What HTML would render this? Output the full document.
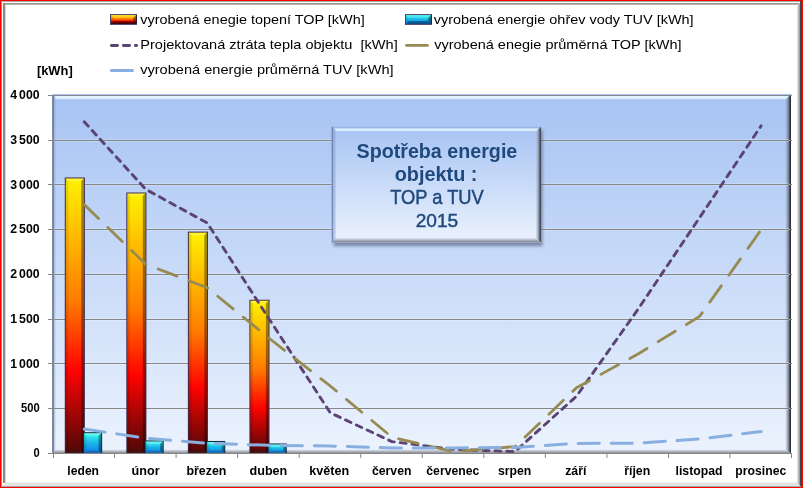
<!DOCTYPE html>
<html lang="cs"><head><meta charset="utf-8"><title>Spotřeba energie objektu : TOP a TUV 2015</title>
<style>html,body{margin:0;padding:0;background:#fff;overflow:hidden}svg{display:block}text{font-family:"Liberation Sans",sans-serif;fill:#000}.b{font-weight:bold}.ws{word-spacing:-1.4px}.tr{stroke:#1f497d;stroke-width:0.45px}</style></head><body>
<svg width="803" height="488" viewBox="0 0 803 488">
<defs>
<linearGradient id="plotg" x1="0" y1="0" x2="0" y2="1"><stop offset="0" stop-color="#a7c3f3"/><stop offset="0.5" stop-color="#c9dbf8"/><stop offset="1" stop-color="#ecf3fe"/></linearGradient>
<linearGradient id="fire" x1="0" y1="0" x2="0" y2="1"><stop offset="0" stop-color="#fff200"/><stop offset="0.45" stop-color="#ff7a00"/><stop offset="0.70" stop-color="#ff0300"/><stop offset="1" stop-color="#4d0808"/></linearGradient>
<linearGradient id="tuv" x1="0" y1="0" x2="0" y2="1"><stop offset="0" stop-color="#3dfff0"/><stop offset="0.5" stop-color="#18b6e8"/><stop offset="1" stop-color="#0f7ff0"/></linearGradient>
<linearGradient id="rbev" x1="0" y1="0" x2="1" y2="0"><stop offset="0" stop-color="#8a94aa" stop-opacity="0"/><stop offset="0.5" stop-color="#6e7686" stop-opacity="0.7"/><stop offset="0.8" stop-color="#3a3e4a" stop-opacity="0.95"/><stop offset="1" stop-color="#1c2028" stop-opacity="1"/></linearGradient>
<linearGradient id="bbev" x1="0" y1="0" x2="0" y2="1"><stop offset="0" stop-color="#a0a8b8" stop-opacity="0.15"/><stop offset="0.6" stop-color="#96999f" stop-opacity="0.85"/><stop offset="1" stop-color="#858585" stop-opacity="1"/></linearGradient>
<linearGradient id="frR" x1="0" y1="0" x2="1" y2="0"><stop offset="0" stop-color="#ffffff"/><stop offset="1" stop-color="#8e8e8e"/></linearGradient>
<linearGradient id="frL" x1="0" y1="0" x2="1" y2="0"><stop offset="0" stop-color="#8a8a8a"/><stop offset="0.55" stop-color="#9a9a9a"/><stop offset="1" stop-color="#ffffff"/></linearGradient>
<linearGradient id="frT" x1="0" y1="0" x2="0" y2="1"><stop offset="0" stop-color="#8a8a8a"/><stop offset="0.5" stop-color="#a8a8a8"/><stop offset="1" stop-color="#ffffff"/></linearGradient>
<filter id="sh" x="-10%" y="-10%" width="125%" height="130%"><feGaussianBlur stdDeviation="1.4"/></filter>
<linearGradient id="hl" x1="0" y1="0" x2="0" y2="1"><stop offset="0" stop-color="#e4f6ff" stop-opacity="0.95"/><stop offset="0.6" stop-color="#e4f6ff" stop-opacity="0.9"/><stop offset="1" stop-color="#d0e6fc" stop-opacity="0.3"/></linearGradient>
<linearGradient id="tbR" x1="0" y1="0" x2="1" y2="0"><stop offset="0" stop-color="#a0aabf" stop-opacity="0"/><stop offset="0.45" stop-color="#98a2b6" stop-opacity="0.75"/><stop offset="0.8" stop-color="#4c5364" stop-opacity="1"/><stop offset="1" stop-color="#3e4656" stop-opacity="1"/></linearGradient>
<linearGradient id="tbB" x1="0" y1="0" x2="0" y2="1"><stop offset="0" stop-color="#b0b8c8" stop-opacity="0"/><stop offset="0.45" stop-color="#a2aaba" stop-opacity="0.8"/><stop offset="0.75" stop-color="#878f9e" stop-opacity="1"/><stop offset="1" stop-color="#aab2c4" stop-opacity="1"/></linearGradient>
</defs>
<rect x="0" y="0" width="803" height="488" fill="#ff0000"/>
<rect x="1" y="1" width="801" height="486" fill="#ffffff"/>
<rect x="1" y="1" width="1" height="486" fill="#7d9a9c"/>
<rect x="3" y="3" width="3" height="480" fill="url(#frL)"/>
<rect x="1" y="1" width="800" height="1" fill="#9eaeaf"/>
<polygon points="3,3 800,3 797,5.6 3,5.6" fill="url(#frT)"/>
<rect x="3" y="3" width="2" height="480" fill="#8c8c8c"/>
<polygon points="800,3 796.5,6 796.5,482.5 800,486" fill="url(#frR)"/>
<rect x="800" y="1" width="2" height="486" fill="#36474a"/>
<polygon points="6,482.5 797,482.5 800,486 2,486" fill="#e3e3e3"/>
<rect x="2" y="486" width="799" height="1" fill="#9db0b2"/>
<rect x="52.5" y="94" width="738.5" height="359.5" fill="url(#plotg)"/>
<polygon points="54,96 790,96 787,99 56,99" fill="#e4f4ff" opacity="0.95"/>
<rect x="54" y="98.6" width="734" height="1" fill="#c4dcfa" opacity="0.7"/>
<rect x="54" y="96" width="1" height="356" fill="#7f93bd" opacity="0.38"/>
<rect x="55" y="97" width="1" height="354" fill="#7f93bd" opacity="0.15"/>
<polygon points="785,99.5 791,94.5 791,453.5 785,449" fill="url(#rbev)"/>
<polygon points="56,449.5 786,449.5 791,453.5 53.5,453.5" fill="url(#bbev)"/>
<rect x="48" y="453" width="744" height="1" fill="#868686"/>
<rect x="54" y="407" width="735" height="3" fill="#ffffff" opacity="0.22"/>
<rect x="48" y="408" width="744" height="1" fill="#868686"/>
<rect x="54" y="362" width="735" height="3" fill="#ffffff" opacity="0.22"/>
<rect x="48" y="363" width="744" height="1" fill="#868686"/>
<rect x="54" y="318" width="735" height="3" fill="#ffffff" opacity="0.22"/>
<rect x="48" y="319" width="744" height="1" fill="#868686"/>
<rect x="54" y="273" width="735" height="3" fill="#ffffff" opacity="0.22"/>
<rect x="48" y="274" width="744" height="1" fill="#868686"/>
<rect x="54" y="228" width="735" height="3" fill="#ffffff" opacity="0.22"/>
<rect x="48" y="229" width="744" height="1" fill="#868686"/>
<rect x="54" y="183" width="735" height="3" fill="#ffffff" opacity="0.22"/>
<rect x="48" y="184" width="744" height="1" fill="#868686"/>
<rect x="54" y="139" width="735" height="3" fill="#ffffff" opacity="0.22"/>
<rect x="48" y="140" width="744" height="1" fill="#868686"/>
<rect x="48" y="95" width="744" height="1" fill="#868686"/>
<rect x="52" y="95" width="1" height="359" fill="#7c889e"/>
<rect x="53" y="95" width="1" height="363" fill="#868686"/>
<rect x="114.04" y="453" width="1" height="5" fill="#868686"/>
<rect x="175.58" y="453" width="1" height="5" fill="#868686"/>
<rect x="237.12" y="453" width="1" height="5" fill="#868686"/>
<rect x="298.67" y="453" width="1" height="5" fill="#868686"/>
<rect x="360.21" y="453" width="1" height="5" fill="#868686"/>
<rect x="421.75" y="453" width="1" height="5" fill="#868686"/>
<rect x="483.29" y="453" width="1" height="5" fill="#868686"/>
<rect x="544.83" y="453" width="1" height="5" fill="#868686"/>
<rect x="606.38" y="453" width="1" height="5" fill="#868686"/>
<rect x="667.92" y="453" width="1" height="5" fill="#868686"/>
<rect x="729.46" y="453" width="1" height="5" fill="#868686"/>
<rect x="791.00" y="453" width="1" height="5" fill="#868686"/>
<rect x="64.77" y="177.48" width="20.10" height="275.52" fill="#40284f"/>
<rect x="65.77" y="178.48" width="18.10" height="274.52" fill="url(#fire)"/>
<polygon points="65.77,178.48 83.87,178.48 81.27,181.08 68.37,181.08" fill="#ffffff" opacity="0.22"/>
<polygon points="65.77,178.48 68.37,181.08 68.37,450.40 65.77,453.00" fill="#000000" opacity="0.10"/>
<polygon points="83.87,178.48 81.27,181.08 81.27,450.40 83.87,453.00" fill="#000000" opacity="0.38"/>
<polygon points="65.77,453.00 68.37,450.40 81.27,450.40 83.87,453.00" fill="#303030" opacity="0.30"/>
<rect x="126.31" y="192.52" width="20.10" height="260.48" fill="#40284f"/>
<rect x="127.31" y="193.52" width="18.10" height="259.48" fill="url(#fire)"/>
<polygon points="127.31,193.52 145.41,193.52 142.81,196.12 129.91,196.12" fill="#ffffff" opacity="0.22"/>
<polygon points="127.31,193.52 129.91,196.12 129.91,450.40 127.31,453.00" fill="#000000" opacity="0.10"/>
<polygon points="145.41,193.52 142.81,196.12 142.81,450.40 145.41,453.00" fill="#000000" opacity="0.38"/>
<polygon points="127.31,453.00 129.91,450.40 142.81,450.40 145.41,453.00" fill="#303030" opacity="0.30"/>
<rect x="187.85" y="231.63" width="20.10" height="221.37" fill="#40284f"/>
<rect x="188.85" y="232.63" width="18.10" height="220.37" fill="url(#fire)"/>
<polygon points="188.85,232.63 206.95,232.63 204.35,235.23 191.45,235.23" fill="#ffffff" opacity="0.22"/>
<polygon points="188.85,232.63 191.45,235.23 191.45,450.40 188.85,453.00" fill="#000000" opacity="0.10"/>
<polygon points="206.95,232.63 204.35,235.23 204.35,450.40 206.95,453.00" fill="#000000" opacity="0.38"/>
<polygon points="188.85,453.00 191.45,450.40 204.35,450.40 206.95,453.00" fill="#303030" opacity="0.30"/>
<rect x="249.40" y="299.74" width="20.10" height="153.26" fill="#40284f"/>
<rect x="250.40" y="300.74" width="18.10" height="152.26" fill="url(#fire)"/>
<polygon points="250.40,300.74 268.50,300.74 265.90,303.34 253.00,303.34" fill="#ffffff" opacity="0.22"/>
<polygon points="250.40,300.74 253.00,303.34 253.00,450.40 250.40,453.00" fill="#000000" opacity="0.10"/>
<polygon points="268.50,300.74 265.90,303.34 265.90,450.40 268.50,453.00" fill="#000000" opacity="0.38"/>
<polygon points="250.40,453.00 253.00,450.40 265.90,450.40 268.50,453.00" fill="#303030" opacity="0.30"/>
<rect x="83.07" y="432.20" width="19.10" height="20.80" fill="#14263c"/>
<rect x="84.07" y="433.20" width="17.10" height="19.80" fill="url(#tuv)"/>
<polygon points="84.07,433.20 101.17,433.20 98.57,435.80 86.67,435.80" fill="#ffffff" opacity="0.22"/>
<polygon points="84.07,433.20 86.67,435.80 86.67,450.40 84.07,453.00" fill="#000000" opacity="0.10"/>
<polygon points="101.17,433.20 98.57,435.80 98.57,450.40 101.17,453.00" fill="#000000" opacity="0.38"/>
<polygon points="84.07,453.00 86.67,450.40 98.57,450.40 101.17,453.00" fill="#303030" opacity="0.30"/>
<rect x="144.61" y="440.43" width="19.10" height="12.57" fill="#14263c"/>
<rect x="145.61" y="441.43" width="17.10" height="11.57" fill="url(#tuv)"/>
<polygon points="145.61,441.43 162.71,441.43 160.11,444.03 148.21,444.03" fill="#ffffff" opacity="0.22"/>
<polygon points="145.61,441.43 148.21,444.03 148.21,450.40 145.61,453.00" fill="#000000" opacity="0.10"/>
<polygon points="162.71,441.43 160.11,444.03 160.11,450.40 162.71,453.00" fill="#000000" opacity="0.38"/>
<polygon points="145.61,453.00 148.21,450.40 160.11,450.40 162.71,453.00" fill="#303030" opacity="0.30"/>
<rect x="206.15" y="440.97" width="19.10" height="12.03" fill="#14263c"/>
<rect x="207.15" y="441.97" width="17.10" height="11.03" fill="url(#tuv)"/>
<polygon points="207.15,441.97 224.25,441.97 221.65,444.57 209.75,444.57" fill="#ffffff" opacity="0.22"/>
<polygon points="207.15,441.97 209.75,444.57 209.75,450.40 207.15,453.00" fill="#000000" opacity="0.10"/>
<polygon points="224.25,441.97 221.65,444.57 221.65,450.40 224.25,453.00" fill="#000000" opacity="0.38"/>
<polygon points="207.15,453.00 209.75,450.40 221.65,450.40 224.25,453.00" fill="#303030" opacity="0.30"/>
<rect x="267.70" y="443.48" width="19.10" height="9.52" fill="#14263c"/>
<rect x="268.70" y="444.48" width="17.10" height="8.52" fill="url(#tuv)"/>
<polygon points="268.70,444.48 285.80,444.48 283.20,447.08 271.30,447.08" fill="#ffffff" opacity="0.22"/>
<polygon points="268.70,444.48 271.30,447.08 271.30,450.40 268.70,453.00" fill="#000000" opacity="0.10"/>
<polygon points="285.80,444.48 283.20,447.08 283.20,450.40 285.80,453.00" fill="#000000" opacity="0.38"/>
<polygon points="268.70,453.00 271.30,450.40 283.20,450.40 285.80,453.00" fill="#303030" opacity="0.30"/>
<rect x="48" y="453" width="744" height="1" fill="#868686"/>
<path d="M84.2,121.7 L145.7,189.3 L207.3,223.0 L268.8,318.5 L330.3,412.8 L391.9,441.6 L453.4,449.4 L515.0,451.6 L576.5,396.2 L638.0,309.3 L699.6,217.6 L761.1,125.9" fill="none" stroke="#5b4373" stroke-width="2.9" stroke-linecap="round" stroke-linejoin="round" stroke-dasharray="6 5.9"/>
<path d="M84.2,204.6 L145.7,264.2 L207.3,287.8 L268.8,338.0 L330.3,386.0 L391.9,437.2 L453.4,451.6 L515.0,446.6 L576.5,387.8 L638.0,354.0 L699.6,316.4 L761.1,229.8" fill="none" stroke="#978b52" stroke-width="2.8" stroke-linecap="round" stroke-linejoin="round" stroke-dasharray="20 13"/>
<path d="M84.2,429.0 L145.7,438.2 L207.3,443.3 L268.8,445.3 L330.3,446.0 L391.9,448.0 L453.4,448.0 L515.0,447.4 L576.5,443.4 L638.0,443.2 L699.6,439.0 L761.1,431.5" fill="none" stroke="#89afe0" stroke-width="3" stroke-linecap="round" stroke-linejoin="round" stroke-dasharray="21.2 11.8"/>
<rect x="333.5" y="130" width="209" height="116.2" fill="#4a5878" opacity="0.6" filter="url(#sh)"/>
<rect x="331.7" y="126.7" width="209.3" height="116.3" fill="url(#plotg)"/>
<rect x="331.7" y="126.7" width="209.3" height="1.7" fill="#8fa9de" opacity="0.55"/>
<polygon points="334.2,128.4 538.5,128.4 536,131.6 336.5,131.6" fill="url(#hl)"/>
<polygon points="331.7,126.7 333.3,127.5 333.3,242 331.7,243" fill="#6b83b3" opacity="0.95"/>
<polygon points="333.3,127.5 335.6,130.5 335.6,239 333.3,242" fill="#8aa2d2" opacity="0.5"/>
<polygon points="541,126.7 535.4,132 535.4,237.5 541,243" fill="url(#tbR)"/>
<polygon points="331.7,243 336,237.5 535.4,237.5 541,243" fill="url(#tbB)"/>
<text x="436.9" y="158.0" font-size="19.4" text-anchor="middle" textLength="160.8" lengthAdjust="spacingAndGlyphs" class="b" fill="#1f497d" style="fill:#1f497d" xml:space="preserve">Spotřeba energie</text>
<text x="436.1" y="180.8" font-size="19.4" text-anchor="middle" textLength="82.8" lengthAdjust="spacingAndGlyphs" class="b" fill="#1f497d" style="fill:#1f497d" xml:space="preserve">objektu :</text>
<text x="437.0" y="203.5" font-size="19.3" text-anchor="middle" textLength="93.6" lengthAdjust="spacingAndGlyphs" class="tr" fill="#1f497d" style="fill:#1f497d" xml:space="preserve">TOP a TUV</text>
<text x="436.9" y="226.6" font-size="18.7" text-anchor="middle" textLength="42.5" lengthAdjust="spacingAndGlyphs" class="tr" fill="#1f497d" style="fill:#1f497d" xml:space="preserve">2015</text>
<rect x="110" y="14.1" width="27.0" height="10.8" fill="#4a3a66"/>
<rect x="111" y="15.1" width="25.0" height="8.80" fill="url(#fire)"/>
<polygon points="111,15.1 136.0,15.1 133.2,17.9 113.8,17.9" fill="#ffffff" opacity="0.12"/>
<polygon points="136.0,15.1 133.2,17.9 133.2,21.10 136.0,23.90" fill="#000000" opacity="0.42"/>
<polygon points="111,15.1 113.8,17.9 113.8,21.10 111,23.90" fill="#000000" opacity="0.08"/>
<polygon points="111,23.90 113.8,21.10 133.2,21.10 136.0,23.90" fill="#000000" opacity="0.38"/>
<rect x="136.0" y="15.1" width="1" height="8.80" fill="#000" opacity="0.45"/>
<rect x="405" y="14.1" width="27.0" height="10.8" fill="#4a3a66"/>
<rect x="406" y="15.1" width="25.0" height="8.80" fill="url(#tuv)"/>
<polygon points="406,15.1 431.0,15.1 428.2,17.9 408.8,17.9" fill="#ffffff" opacity="0.1"/>
<polygon points="431.0,15.1 428.2,17.9 428.2,21.10 431.0,23.90" fill="#000000" opacity="0.42"/>
<polygon points="406,15.1 408.8,17.9 408.8,21.10 406,23.90" fill="#000000" opacity="0.08"/>
<polygon points="406,23.90 408.8,21.10 428.2,21.10 431.0,23.90" fill="#000000" opacity="0.38"/>
<rect x="431.0" y="15.1" width="1" height="8.80" fill="#000" opacity="0.45"/>
<path d="M111.4,45.5 L136.6,45.5" fill="none" stroke="#5b4373" stroke-width="2.9" stroke-linecap="round" stroke-dasharray="6.1 5.9"/>
<path d="M406.5,45.4 L427.4,45.4" fill="none" stroke="#978b52" stroke-width="2.9" stroke-linecap="round"/>
<path d="M111.4,70.6 L132.5,70.6" fill="none" stroke="#89afe0" stroke-width="3" stroke-linecap="round"/>
<text x="140.3" y="23.6" font-size="12.9" text-anchor="start" textLength="224.4" lengthAdjust="spacingAndGlyphs" xml:space="preserve">vyrobená enegie topení TOP [kWh]</text>
<text x="140.3" y="49.4" font-size="12.9" text-anchor="start" textLength="257.4" lengthAdjust="spacingAndGlyphs" xml:space="preserve">Projektovaná ztráta tepla objektu  [kWh]</text>
<text x="140.2" y="74.2" font-size="12.9" text-anchor="start" textLength="253.4" lengthAdjust="spacingAndGlyphs" xml:space="preserve">vyrobená energie průměrná TUV [kWh]</text>
<text x="433.7" y="23.6" font-size="12.9" text-anchor="start" textLength="259.9" lengthAdjust="spacingAndGlyphs" xml:space="preserve">vyrobená energie ohřev vody TUV [kWh]</text>
<text x="434.2" y="49.4" font-size="12.9" text-anchor="start" textLength="247.4" lengthAdjust="spacingAndGlyphs" xml:space="preserve">vyrobená enegie průměrná TOP [kWh]</text>
<text x="36.9" y="75.1" font-size="12.2" text-anchor="start" textLength="35.8" lengthAdjust="spacingAndGlyphs" class="b" xml:space="preserve">[kWh]</text>
<text x="39.6" y="457.1" font-size="11.9" text-anchor="end" textLength="6.2" lengthAdjust="spacingAndGlyphs" class="b ws" xml:space="preserve">0</text>
<text x="39.6" y="412.4" font-size="11.9" text-anchor="end" textLength="18.6" lengthAdjust="spacingAndGlyphs" class="b ws" xml:space="preserve">500</text>
<text x="39.6" y="367.6" font-size="11.9" text-anchor="end" textLength="29.3" lengthAdjust="spacingAndGlyphs" class="b ws" xml:space="preserve">1 000</text>
<text x="39.6" y="322.9" font-size="11.9" text-anchor="end" textLength="29.3" lengthAdjust="spacingAndGlyphs" class="b ws" xml:space="preserve">1 500</text>
<text x="39.6" y="278.1" font-size="11.9" text-anchor="end" textLength="29.3" lengthAdjust="spacingAndGlyphs" class="b ws" xml:space="preserve">2 000</text>
<text x="39.6" y="233.3" font-size="11.9" text-anchor="end" textLength="29.3" lengthAdjust="spacingAndGlyphs" class="b ws" xml:space="preserve">2 500</text>
<text x="39.6" y="188.6" font-size="11.9" text-anchor="end" textLength="29.3" lengthAdjust="spacingAndGlyphs" class="b ws" xml:space="preserve">3 000</text>
<text x="39.6" y="143.8" font-size="11.9" text-anchor="end" textLength="29.3" lengthAdjust="spacingAndGlyphs" class="b ws" xml:space="preserve">3 500</text>
<text x="39.6" y="99.1" font-size="11.9" text-anchor="end" textLength="29.3" lengthAdjust="spacingAndGlyphs" class="b ws" xml:space="preserve">4 000</text>
<text x="83.2" y="474.9" font-size="12.3" text-anchor="middle" textLength="31.7" lengthAdjust="spacingAndGlyphs" class="b" xml:space="preserve">leden</text>
<text x="145.6" y="474.9" font-size="12.3" text-anchor="middle" textLength="28" lengthAdjust="spacingAndGlyphs" class="b" xml:space="preserve">únor</text>
<text x="206.4" y="474.9" font-size="12.3" text-anchor="middle" textLength="40" lengthAdjust="spacingAndGlyphs" class="b" xml:space="preserve">březen</text>
<text x="268.4" y="474.9" font-size="12.3" text-anchor="middle" textLength="37.8" lengthAdjust="spacingAndGlyphs" class="b" xml:space="preserve">duben</text>
<text x="329.2" y="474.9" font-size="12.3" text-anchor="middle" textLength="39.9" lengthAdjust="spacingAndGlyphs" class="b" xml:space="preserve">květen</text>
<text x="391.7" y="474.9" font-size="12.3" text-anchor="middle" textLength="39.4" lengthAdjust="spacingAndGlyphs" class="b" xml:space="preserve">červen</text>
<text x="452.8" y="474.9" font-size="12.3" text-anchor="middle" textLength="53" lengthAdjust="spacingAndGlyphs" class="b" xml:space="preserve">červenec</text>
<text x="514.6" y="474.9" font-size="12.3" text-anchor="middle" textLength="33.3" lengthAdjust="spacingAndGlyphs" class="b" xml:space="preserve">srpen</text>
<text x="575.8" y="474.9" font-size="12.3" text-anchor="middle" textLength="21.2" lengthAdjust="spacingAndGlyphs" class="b" xml:space="preserve">září</text>
<text x="637.2" y="474.9" font-size="12.3" text-anchor="middle" textLength="26.1" lengthAdjust="spacingAndGlyphs" class="b" xml:space="preserve">říjen</text>
<text x="699" y="474.9" font-size="12.3" text-anchor="middle" textLength="47" lengthAdjust="spacingAndGlyphs" class="b" xml:space="preserve">listopad</text>
<text x="760.8" y="474.9" font-size="12.3" text-anchor="middle" textLength="51" lengthAdjust="spacingAndGlyphs" class="b" xml:space="preserve">prosinec</text>
</svg></body></html>
